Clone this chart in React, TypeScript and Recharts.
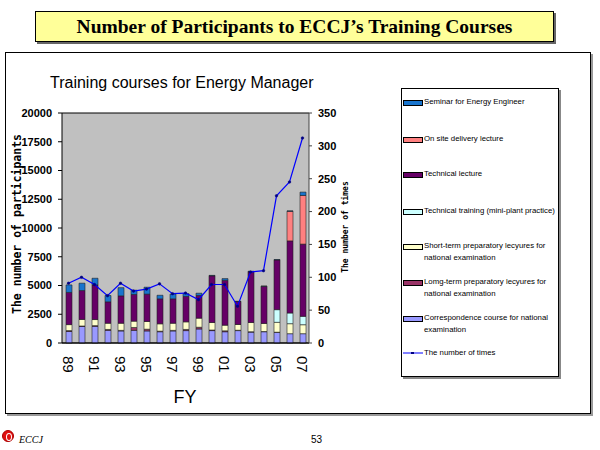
import React from 'react';
import { ComposedChart, Bar, Line, XAxis, YAxis, CartesianGrid, Legend } from 'recharts';

const years = ['89','90','91','92','93','94','95','96','97','98','99','00','01','02','03','04','05','06','07'];
const correspondence = [1000,1450,1450,1100,1050,1100,1050,980,1050,1080,1220,1080,980,1080,950,980,920,810,810];
const longTerm = [80,30,60,80,50,250,150,50,50,100,150,50,80,30,30,20,20,0,0];
const shortTerm = [520,570,530,540,620,550,670,640,620,660,790,650,490,500,800,700,860,870,780];
const techTraining = [0,0,0,0,0,0,0,0,0,0,0,0,0,0,0,0,1100,930,730];
const techLecture = [2800,2510,3010,1860,2380,2320,2380,2170,2120,2210,1970,4060,3900,2000,4420,3230,4320,6270,6280];
const onSite = [0,0,0,0,0,0,0,0,0,0,0,0,0,0,0,0,0,2570,4230];
const seminar = [650,640,580,550,710,370,600,310,410,240,200,40,150,20,40,20,40,40,290];
const times = [91,100,89,72,91,79,82,90,75,76,66,89,89,56,108,110,224,245,312];

const leftTicks = [0,2500,5000,7500,10000,12500,15000,17500,20000];
const rightTicks = [0,50,100,150,200,250,300,350];

const series = [
  { key: 'correspondence', name: 'Correspondence course for national examination', color: '#9999FF' },
  { key: 'longTerm', name: 'Lomg-term preparatory lecyures for national examination', color: '#993366' },
  { key: 'shortTerm', name: 'Short-term preparatory lecyures for national examination', color: '#FFFFCC' },
  { key: 'techTraining', name: 'Technical training (mini-plant practice)', color: '#CCFFFF' },
  { key: 'techLecture', name: 'Technical lecture', color: '#660066' },
  { key: 'onSite', name: 'On site delivery lecture', color: '#FF8080' },
  { key: 'seminar', name: 'Seminar for Energy Engineer', color: '#1874CD' },
];

const data = years.map((y, i) => ({
  year: y,
  correspondence: correspondence[i],
  longTerm: longTerm[i],
  shortTerm: shortTerm[i],
  techTraining: techTraining[i],
  techLecture: techLecture[i],
  onSite: onSite[i],
  seminar: seminar[i],
  times: times[i],
}));

const XTick = (props: any) => {
  const { x, y, payload } = props;
  return (
    <text x={x} y={y} dx={13} transform={`rotate(90, ${x}, ${y})`} textAnchor="start" dominantBaseline="central"
      fontFamily="Liberation Sans, Arial, sans-serif" fontSize={15} fill="#000">
      {payload.value}
    </text>
  );
};

const legendRows = [
  { name: 'Seminar for Energy Engineer', color: '#1874CD', lines: ['Seminar for Energy Engineer'], top: 13 },
  { name: 'On site delivery lecture', color: '#FF8080', lines: ['On site delivery lecture'], top: 50 },
  { name: 'Technical lecture', color: '#660066', lines: ['Technical lecture'], top: 85 },
  { name: 'Technical training', color: '#CCFFFF', lines: ['Technical training (mini-plant practice)'], top: 122 },
  { name: 'Short-term', color: '#FFFFCC', lines: ['Short-term preparatory lecyures for', 'national examination'], top: 157 },
  { name: 'Long-term', color: '#993366', lines: ['Lomg-term preparatory lecyures for', 'national examination'], top: 193 },
  { name: 'Correspondence', color: '#9999FF', lines: ['Correspondence course for national', 'examination'], top: 229 },
];

const LegendBox = () => (
  <div style={{ position: 'relative', width: 158, height: 289, background: '#fff', border: '1px solid #000', boxShadow: '2px 2px 0 #888', boxSizing: 'border-box', fontFamily: 'Liberation Sans, Arial, sans-serif', fontSize: 7.8, color: '#000' }}>
    {legendRows.map((r) => (
      <div key={r.name} style={{ position: 'absolute', left: 1, top: r.top - 5 }}>
        <div style={{ position: 'absolute', left: 0, top: 3, width: 18, height: 4, background: r.color, border: '1px solid #000' }} />
        {r.lines.map((t, j) => (
          <div key={j} style={{ position: 'absolute', left: 21, top: j * 12, whiteSpace: 'nowrap', lineHeight: '10px' }}>{t}</div>
        ))}
      </div>
    ))}
    <div style={{ position: 'absolute', left: 1, top: 259 }}>
      <svg width={20} height={10} style={{ position: 'absolute', left: 0, top: 0 }}>
        <line x1={0} y1={5} x2={20} y2={5} stroke="#0000FF" strokeWidth={1} />
        <rect x={8} y={4} width={3} height={2} fill="#000080" />
      </svg>
      <div style={{ position: 'absolute', left: 21, top: 0, whiteSpace: 'nowrap', lineHeight: '10px' }}>The number of times</div>
    </div>
  </div>
);

export default function App() {
  return (
    <div style={{ position: 'absolute', left: 0, top: 0, width: 600, height: 450, background: '#fff', overflow: 'hidden' }}>
      <div style={{ position: 'absolute', left: 35, top: 11, width: 519, height: 31, background: '#FFFF99', border: '1px solid #000', boxShadow: '2px 2px 0 #666', boxSizing: 'border-box', display: 'flex', alignItems: 'center', justifyContent: 'center', fontFamily: 'Liberation Serif, Times New Roman, serif', fontWeight: 'bold', fontSize: 19.5, color: '#000', whiteSpace: 'nowrap' }}>
        Number of Participants to ECCJ’s Training Courses
      </div>
      <div style={{ position: 'absolute', left: 5, top: 52, width: 586, height: 362, border: '1px solid #000', boxShadow: '2px 2px 0 #999', boxSizing: 'border-box' }} />
      <div style={{ position: 'absolute', left: 50, top: 74, fontFamily: 'Liberation Sans, Arial, sans-serif', fontSize: 16, color: '#000', whiteSpace: 'nowrap' }}>
        Training courses for Energy Manager
      </div>
      <div style={{ position: 'absolute', left: 0, top: 0 }}>
        <ComposedChart width={600} height={450} data={data} margin={{ top: 113, right: 241, bottom: 0, left: 5 }} barSize={6}>
          <CartesianGrid vertical={false} stroke="#000" strokeWidth={1} fill="#C0C0C0" fillOpacity={1} />
          <XAxis dataKey="year" interval={1} height={107} tickSize={0} tickMargin={0} tick={<XTick />} axisLine={{ stroke: '#000' }}
            label={() => (
              <text x={185} y={403} textAnchor="middle" fontFamily="Liberation Sans, Arial, sans-serif" fontSize={18} fill="#000">FY</text>
            )} />
          <YAxis yAxisId="left" orientation="left" width={57} domain={[0, 20000]} ticks={leftTicks} interval={0}
            tick={{ fontFamily: 'Liberation Sans, Arial, sans-serif', fontSize: 11, fontWeight: 'bold', fill: '#000' }}
            tickSize={4} tickMargin={6} axisLine={{ stroke: '#000' }} tickLine={{ stroke: '#000' }}
            label={() => (
              <text x={17} y={224} transform="rotate(-90, 17, 224)" textAnchor="middle" dominantBaseline="central" fontFamily="DejaVu Sans Mono, monospace" fontWeight="bold" fontSize={11.5} fill="#000">The number of participants</text>
            )} />
          <YAxis yAxisId="right" orientation="right" width={50} domain={[0, 350]} ticks={rightTicks} interval={0}
            tick={{ fontFamily: 'Liberation Sans, Arial, sans-serif', fontSize: 11, fontWeight: 'bold', fill: '#000', textAnchor: 'start' }}
            tickSize={3} tickMargin={6} axisLine={{ stroke: '#444' }} tickLine={{ stroke: '#444' }}
            label={() => (
              <text x={345} y={227} transform="rotate(-90, 345, 227)" textAnchor="middle" dominantBaseline="central" fontFamily="DejaVu Sans Mono, monospace" fontWeight="bold" fontSize={8} fill="#000">The number of times</text>
            )} />
          {series.map((s) => (
            <Bar key={s.key} yAxisId="left" dataKey={s.key} name={s.name} stackId="a" fill={s.color} stroke="#222" strokeWidth={0.6} isAnimationActive={false} legendType="rect" />
          ))}
          <Line yAxisId="right" dataKey="times" name="The number of times" stroke="#0000FF" strokeWidth={1.2} dot={{ r: 1.3, fill: '#000080', stroke: '#000080', strokeWidth: 0.5 }} isAnimationActive={false} />
          <Legend layout="horizontal" verticalAlign="middle" align="center" width={158} height={289}
            wrapperStyle={{ left: 401, top: 88, width: 158, height: 289 }} content={() => <LegendBox />} />
        </ComposedChart>
      </div>
      <div style={{ position: 'absolute', left: 2, top: 430, width: 12, height: 12, borderRadius: '50%', background: '#e01010', border: '1px solid #a00', boxSizing: 'border-box' }}>
        <div style={{ position: 'absolute', left: 3, top: 2, width: 4, height: 6, borderRadius: '50%', border: '1px solid #fff' }} />
      </div>
      <div style={{ position: 'absolute', left: 19, top: 434, fontFamily: 'Liberation Serif, serif', fontStyle: 'italic', fontSize: 10, color: '#000' }}>ECCJ</div>
      <div style={{ position: 'absolute', left: 311, top: 434, fontFamily: 'Liberation Sans, Arial, sans-serif', fontSize: 10, color: '#000' }}>53</div>
    </div>
  );
}
